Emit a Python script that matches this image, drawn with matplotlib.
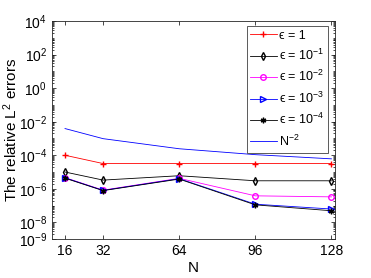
import numpy as np
import matplotlib.pyplot as plt
from matplotlib.ticker import LogLocator, NullFormatter

plt.rcParams['font.family'] = ['Liberation Sans', 'DejaVu Sans']
plt.rcParams['mathtext.fontset'] = 'custom'
plt.rcParams['mathtext.rm'] = 'Liberation Sans'
plt.rcParams['mathtext.it'] = 'Liberation Sans:italic'

N = np.array([16, 32, 64, 96, 128])
err_e0 = [1.0e-4, 3.2e-5, 3.2e-5, 3.2e-5, 3.2e-5]
err_e1 = [1.0e-5, 3.3e-6, 6.0e-6, 3.0e-6, 3.0e-6]
err_e2 = [4.6e-6, 8.3e-7, 4.2e-6, 3.8e-7, 3.3e-7]
err_e3 = [4.5e-6, 8.0e-7, 4.0e-6, 1.2e-7, 6.2e-8]
err_e4 = [4.3e-6, 7.8e-7, 3.8e-6, 1.1e-7, 4.9e-8]
ref = 1.0 / N.astype(float) ** 2

fig = plt.figure(figsize=(3.71, 2.78), dpi=100)
ax = fig.add_axes([0.140, 0.140, 0.763, 0.784])

lw = 0.6
ax.plot(N, err_e0, color='red', marker='+', ms=5, lw=lw, label='ϵ = 1')
ax.plot(N, err_e1, color='black', marker='d', ms=4, mfc='none', lw=lw, label='ϵ = $10^{-1}$')
ax.plot(N, err_e2, color='magenta', marker='o', ms=4, mfc='none', lw=lw, label='ϵ = $10^{-2}$')
ax.plot(N, err_e3, color='blue', marker='>', ms=4, mfc='none', lw=lw, label='ϵ = $10^{-3}$')
ax.plot(N, err_e4, color='black', marker=(6, 2, 0), ms=4, lw=lw, label='ϵ = $10^{-4}$')
ax.plot(N, ref, color='blue', lw=lw, label='N$^{-2}$')

ax.set_yscale('log')
ax.set_xlim(10.5, 129.5)
ax.set_ylim(1e-9, 1e4)
ax.set_xticks(N)
ax.set_yticks([1e-9, 1e-8, 1e-6, 1e-4, 1e-2, 1e0, 1e2, 1e4])
ax.yaxis.set_minor_locator(LogLocator(base=10, subs=np.arange(1, 10), numticks=30))
ax.yaxis.set_minor_formatter(NullFormatter())
ax.tick_params(which='both', direction='in', top=True, right=True, labelsize=10, width=0.5)
ax.tick_params(which='major', length=3)
ax.tick_params(which='minor', length=1.5)
for s in ax.spines.values():
    s.set_linewidth(0.6)
    s.set_color('#262626')

ax.set_xlabel('N', fontsize=11, labelpad=2)
ax.set_ylabel('The relative L$^2$ errors', fontsize=11)
ax.yaxis.set_label_coords(-0.113, 0.5)

leg = ax.legend(loc='upper right', fontsize=9, frameon=True, fancybox=False,
                edgecolor='#404040', framealpha=1, handlelength=2.1,
                borderpad=0.3, labelspacing=0.5, handletextpad=0.2,
                borderaxespad=0.2, bbox_to_anchor=(0.985, 0.99))
leg.get_frame().set_linewidth(0.6)

fig.savefig('out.png', dpi=100)
